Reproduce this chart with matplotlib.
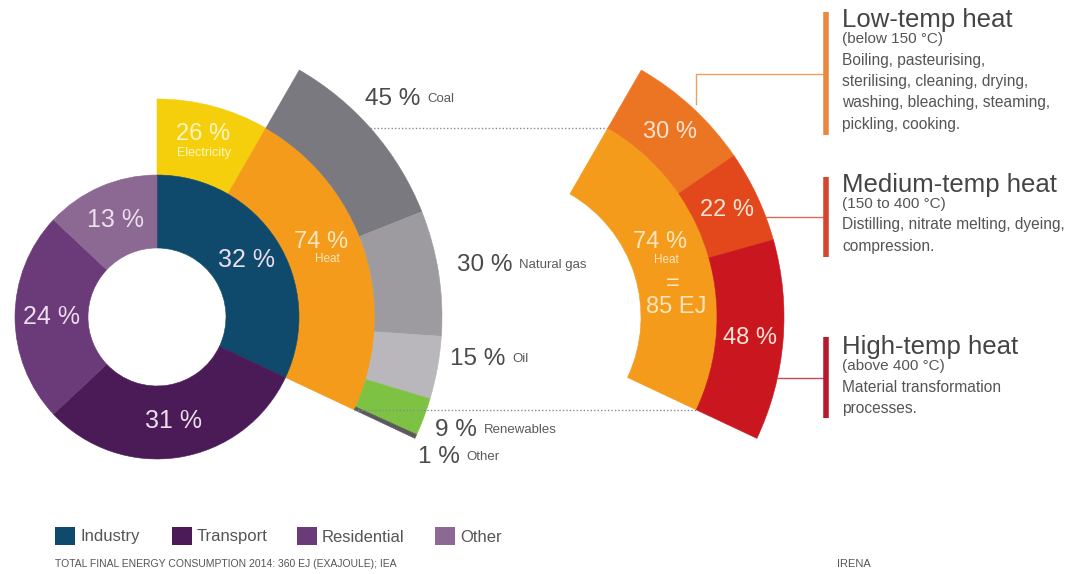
import matplotlib.pyplot as plt
from matplotlib.patches import Wedge, Rectangle
import numpy as np

plt.rcParams['font.family'] = ['Liberation Sans', 'DejaVu Sans']

# total final energy consumption 2014 by sector (%)
sectors = ['Industry', 'Transport', 'Residential', 'Other']
sector_share = [32, 31, 24, 13]
sector_colors = ['#0f4a6c', '#4a1b57', '#6b3a78', '#8c6993']

# industry energy use
industry_parts = ['Electricity', 'Heat']
industry_share = [26, 74]
industry_colors = ['#f6cf0c', '#f49b1b']

# industrial heat by source (%)
sources = ['Coal', 'Natural gas', 'Oil', 'Renewables', 'Other']
source_share = [45, 30, 15, 9, 1]
source_colors = ['#7a797f', '#9d9ba0', '#b9b7bb', '#7dc242', '#5a5a5c']

# industrial heat by temperature level (%)
temps = ['Low-temp heat', 'Medium-temp heat', 'High-temp heat']
temp_range = ['(below 150 °C)', '(150 to 400 °C)', '(above 400 °C)']
temp_share = [30, 22, 48]
temp_colors = ['#ec7523', '#e2481b', '#c9161f']
bar_colors = ['#e8893f', '#d4472e', '#b81a2d']
temp_uses = [['Boiling, pasteurising,', 'sterilising, cleaning, drying,',
              'washing, bleaching, steaming,', 'pickling, cooking.'],
             ['Distilling, nitrate melting, dyeing,', 'compression.'],
             ['Material transformation', 'processes.']]
heat_ej = 85

W, H = 1091, 574
fig = plt.figure(figsize=(W / 100, H / 100), dpi=100)
ax = fig.add_axes([0, 0, 1, 1])
ax.set_xlim(0, W)
ax.set_ylim(0, H)
ax.set_aspect('equal')
ax.axis('off')

C1 = (157, 257)   # donut centre
C2 = (499, 257)   # heat fan centre (right)
r_hole, r_ring, r_mid, r_out = 69, 142, 218, 285
r_heat = (r_ring + r_mid) / 2


def spans(shares, start, total_deg):
    # clockwise from start angle
    out = []
    a = start
    for s in shares:
        d = total_deg * s / 100
        out.append((a - d, a))
        a -= d
    return out


def polar(c, ang, r):
    t = np.radians(ang)
    return c[0] + r * np.cos(t), c[1] + r * np.sin(t)


def on_ring(c, y, r):
    # x on a circle of radius r round c at height y (right half)
    return c[0] + np.sqrt(r ** 2 - (y - c[1]) ** 2)


def wedge(c, r, t1, t2, width, color, z=2):
    ax.add_patch(Wedge(c, r, t1, t2, width=width, facecolor=color,
                       edgecolor=color, lw=0.4, zorder=z))


# donut
sec_sp = spans(sector_share, 90, 360)
for (t1, t2), col in zip(sec_sp, sector_colors):
    wedge(C1, r_ring, t1, t2, r_ring - r_hole, col, z=4)
for (t1, t2), v in zip(sec_sp, sector_share):
    x, y = polar(C1, (t1 + t2) / 2, (r_hole + r_ring) / 2)
    ax.text(x, y, f'{v} %', color='#ecdeee', fontsize=18, ha='center', va='center', zorder=6)

# industry: electricity / heat
ind_total = 360 * sector_share[0] / 100
ind_sp = spans(industry_share, 90, ind_total)
for (t1, t2), col in zip(ind_sp, industry_colors):
    wedge(C1, r_mid, t1, t2, r_mid - r_ring, col)

light_y = '#fff6c4'
light_o = '#fde6bd'
ex, ey = polar(C1, np.mean(ind_sp[0]), r_heat)
ax.text(ex, ey + 9, f'{industry_share[0]} %', color=light_y, fontsize=17, ha='center', va='center', zorder=6)
ax.text(ex, ey - 10, industry_parts[0], color=light_y, fontsize=9, ha='center', va='center', zorder=6)
ax.text(on_ring(C1, H - 242, r_heat), H - 242, f'{industry_share[1]} %', color=light_o,
        fontsize=17, ha='center', va='center', zorder=6)
ax.text(on_ring(C1, H - 259, r_heat), H - 259, industry_parts[1], color=light_o,
        fontsize=8.5, ha='center', va='center', zorder=6)

# heat by source
heat_lo, heat_hi = ind_sp[1]
heat_total = heat_hi - heat_lo
src_sp = spans(source_share, heat_hi, heat_total)
for (t1, t2), col in zip(src_sp, source_colors):
    wedge(C1, r_out, t1, t2, r_out - r_mid, col)

src_num_x = [365, 457, 450, 435, 418]
src_base = [105, 271, 365, 436, 463]
for s, v, nx, b in zip(sources, source_share, src_num_x, src_base):
    t = ax.text(nx, H - b, f'{v} %', color='#4a4a4c', fontsize=17.5, ha='left', va='baseline')
    ax.annotate(s, xy=(1, 0), xycoords=t, xytext=(5, 3.5), textcoords='offset points',
                color='#5a5a5c', fontsize=9.5, ha='left', va='bottom')

# dotted links between the two fans
top1 = polar(C1, heat_hi, r_mid)
top2 = polar(C2, heat_hi, r_mid)
bot1 = polar(C1, heat_lo, r_mid)
bot2 = polar(C2, heat_lo, r_mid)
ax.plot([top1[0], top2[0]], [top1[1], top2[1]], ls=(0, (1, 1.5)), color='#7f8c9c', lw=1, zorder=1)
ax.plot([bot1[0], bot2[0]], [bot1[1], bot2[1]], ls=(0, (1, 1.5)), color='#7f8c9c', lw=1, zorder=5)

# right fan: heat by temperature
wedge(C2, r_mid, heat_lo, heat_hi, r_mid - r_ring, industry_colors[1])
tmp_sp = spans(temp_share, heat_hi, heat_total)
for (t1, t2), col in zip(tmp_sp, temp_colors):
    wedge(C2, r_out, t1, t2, r_out - r_mid, col)
for (t1, t2), v in zip(tmp_sp, temp_share):
    x, y = polar(C2, (t1 + t2) / 2, (r_mid + r_out) / 2)
    ax.text(x, y, f'{v} %', color='#fde3d2', fontsize=17, ha='center', va='center', zorder=6)

heat_lines = [(f'{industry_share[1]} %', 242, 17), (industry_parts[1], 260, 8.5),
              ('=', 284, 17), (f'{heat_ej} EJ', 307, 17)]
for txt, yp, fs in heat_lines:
    ax.text(on_ring(C2, H - yp, r_heat) - 3, H - yp, txt, color=light_o, fontsize=fs,
            ha='center', va='center', zorder=6)

# right-side descriptions
bar_x = 826
bar_top = [12, 177, 337]
bar_bot = [135, 257, 418]
title_y = [20, 185, 347]
for i in range(3):
    ax.plot([bar_x, bar_x], [H - bar_top[i], H - bar_bot[i]], color=bar_colors[i], lw=4,
            solid_capstyle='butt')
    ym = H - (bar_top[i] + bar_bot[i]) / 2
    t1, t2 = tmp_sp[i]
    if i == 0:
        px, py = polar(C2, (t1 + t2) / 2, r_out + 5)
        ax.plot([px, px, bar_x], [py, ym, ym], color=bar_colors[i], lw=1, alpha=0.8)
    else:
        px = on_ring(C2, ym, r_out)
        ax.plot([px, bar_x], [ym, ym], color=bar_colors[i], lw=1, alpha=0.8)
    ty = H - title_y[i]
    ax.text(842, ty, temps[i], color='#444446', fontsize=18.5, ha='left', va='center')
    ax.text(842, ty - 19, temp_range[i], color='#555557', fontsize=11, ha='left', va='center')
    for k, line in enumerate(temp_uses[i]):
        ax.text(842, ty - 40 - 21.5 * k, line, color='#555557', fontsize=11.2, ha='left', va='center')

# legend
leg_x = [55, 172, 297, 435]
for x, name, col in zip(leg_x, sectors, sector_colors):
    ax.add_patch(Rectangle((x, H - 545), 20, 18, facecolor=col, edgecolor='none'))
    ax.text(x + 25, H - 537, name, color='#555557', fontsize=12, ha='left', va='center')

ax.text(55, H - 564, 'TOTAL FINAL ENERGY CONSUMPTION 2014: 360 EJ (EXAJOULE); IEA',
        color='#555557', fontsize=7.5, ha='left', va='center')
ax.text(837, H - 564, 'IRENA', color='#555557', fontsize=8, ha='left', va='center')

fig.savefig('out.png', dpi=100)
